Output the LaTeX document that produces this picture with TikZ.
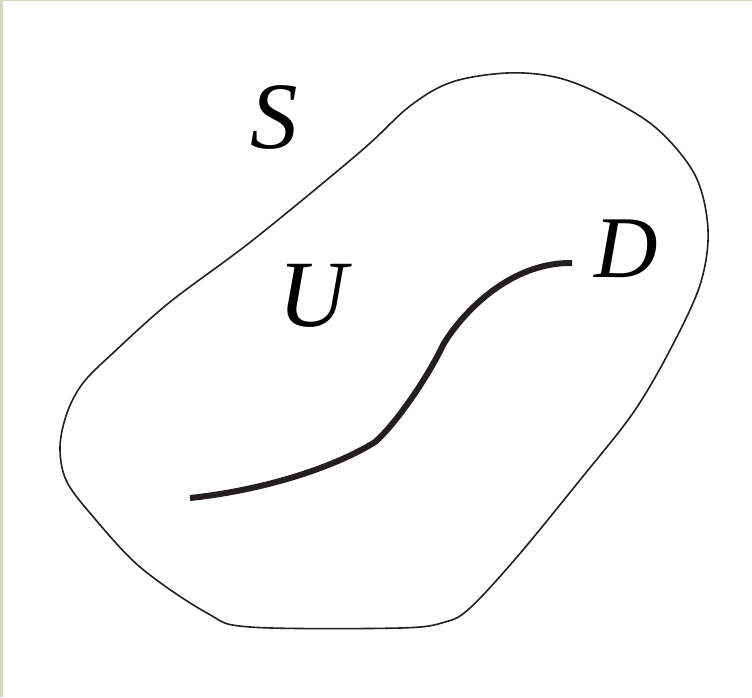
\documentclass[tikz,border=0pt]{standalone}
\usepackage{fontspec}
\setmainfont{Liberation Serif}
\definecolor{edge}{RGB}{216,216,188}
\definecolor{ink}{RGB}{35,31,32}
\tikzset{
  outline/.style={draw=ink, line width=1.6pt},
  curvepath/.style={draw=ink, line width=6pt},
  lbl/.style={inner sep=0pt, anchor=base, font=\itshape\fontsize{95}{95}\selectfont},
}
\begin{document}
\begin{tikzpicture}[x=1pt,y=-1pt]
\fill[white] (0,0) rectangle (752,697);
\useasboundingbox (0,0) rectangle (752,697);
\fill[edge] (0,0) rectangle (3,697);
\fill[edge] (0,0) rectangle (752,1.2);
\draw[outline] plot[smooth cycle, tension=0.55] coordinates {
 (507,73) (452,82) (410,106) (360,152) (253,240) (170,302) (113,353) (83,383) (67,413) (60,447)
 (66,480) (90,513) (140,567) (207,613) (250,627) (400,628) (445,622) (470,608) (517,557) (580,480)
 (633,413) (670,350) (700,285) (708,230) (695,175) (655,127) (600,94) (555,77)};
\coordinate (c0) at (190,498);
\coordinate (c1) at (375,442);
\coordinate (c2) at (443,345);
\coordinate (c3) at (572,263);
\draw[curvepath] (c0) .. controls (265,490) and (335,467) .. (c1)
  .. controls (395,425) and (428,377) .. (c2)
  .. controls (460,316) and (508,262) .. (c3);
\node[lbl] (S) at (274,148) {S};
\node[lbl] (U) at (313,326) {U};
\node[lbl, font=\itshape\fontsize{88}{88}\selectfont] (D) at (626,277) {D};
\end{tikzpicture}
\end{document}
